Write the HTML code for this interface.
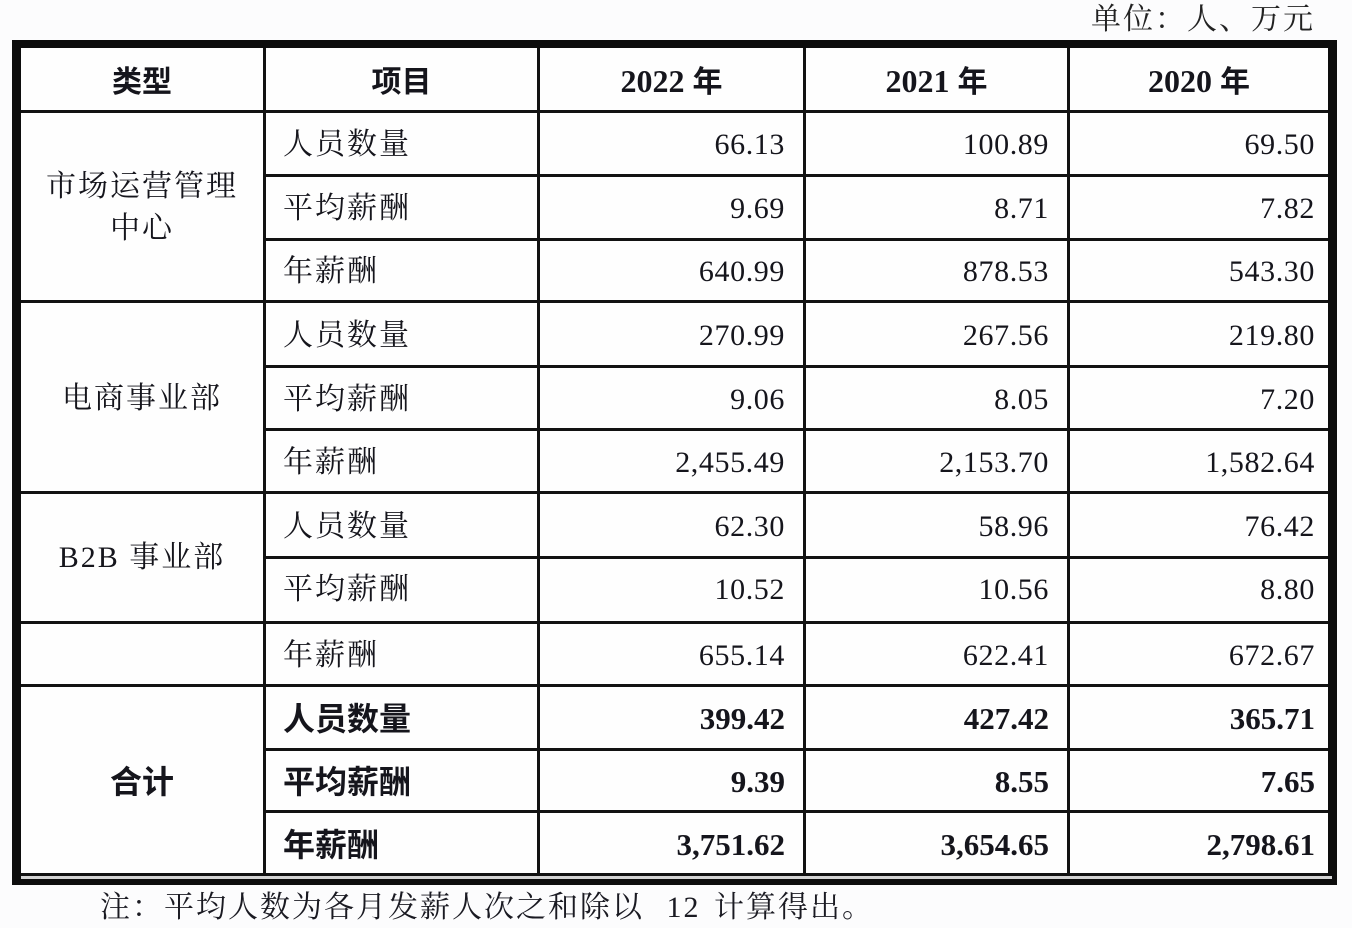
<!DOCTYPE html>
<html>
<head>
<meta charset="utf-8">
<style>
  html,body{margin:0;padding:0;}
  body{width:1352px;height:926px;background:#fcfcfd;position:relative;overflow:hidden;color:#15151c;}
  .abs{position:absolute;}
  .ln{position:absolute;background:#121212;}
  .t{position:absolute;height:40px;line-height:40px;white-space:nowrap;}
  .cj{font-family:"Liberation Serif","Noto Serif CJK SC",serif;font-size:30px;letter-spacing:2px;}
  .cjb{font-family:"Liberation Sans","Noto Sans CJK SC",sans-serif;font-size:32px;font-weight:bold;}
  .num{font-family:"Liberation Serif",serif;font-size:30px;letter-spacing:0.6px;text-align:right;}
  .numb{font-family:"Liberation Serif",serif;font-size:31px;font-weight:bold;text-align:right;}
  .hd{font-family:"Liberation Serif","Noto Sans CJK SC",sans-serif;font-size:32px;font-weight:bold;text-align:center;}
  .hd .c{font-family:"Liberation Sans","Noto Sans CJK SC",sans-serif;font-size:30px;}
  .c1{left:21px;width:242px;text-align:center;}
  .c2{left:283px;}
  .n1{right:567px;}
  .n2{right:303px;}
  .n3{right:37px;}
</style>
</head>
<body>
<!-- title -->
<div class="t cj" style="right:37px;top:0px;color:#222;">单位：人、万元</div>

<!-- frame -->
<div class="abs" style="left:12px;top:40px;width:1325px;height:845px;background:#0d0d0d;"></div>
<div class="abs" style="left:21px;top:48px;width:1307px;height:825px;background:#fefefe;"></div>
<div class="abs" style="left:21px;top:873px;width:1307px;height:3px;background:#121212;"></div>
<div class="abs" style="left:21px;top:876px;width:1311px;height:3px;background:#d4d4d4;"></div>

<!-- vertical lines -->
<div class="ln" style="left:263px;top:48px;width:3px;height:826px;"></div>
<div class="ln" style="left:537px;top:48px;width:3px;height:826px;"></div>
<div class="ln" style="left:803px;top:48px;width:3px;height:826px;"></div>
<div class="ln" style="left:1067px;top:48px;width:3px;height:826px;"></div>

<!-- full width horizontal lines -->
<div class="ln" style="left:21px;top:110px;width:1307px;height:3px;"></div>
<div class="ln" style="left:21px;top:300px;width:1307px;height:3px;"></div>
<div class="ln" style="left:21px;top:491px;width:1307px;height:3px;"></div>
<div class="ln" style="left:21px;top:621px;width:1307px;height:3px;"></div>
<div class="ln" style="left:21px;top:684px;width:1307px;height:3px;"></div>
<!-- partial lines -->
<div class="ln" style="left:263px;top:174px;width:1065px;height:3px;"></div>
<div class="ln" style="left:263px;top:238px;width:1065px;height:3px;"></div>
<div class="ln" style="left:263px;top:365px;width:1065px;height:3px;"></div>
<div class="ln" style="left:263px;top:428px;width:1065px;height:3px;"></div>
<div class="ln" style="left:263px;top:556px;width:1065px;height:3px;"></div>
<div class="ln" style="left:263px;top:748px;width:1065px;height:3px;"></div>
<div class="ln" style="left:263px;top:810px;width:1065px;height:3px;"></div>

<!-- header -->
<div class="t hd" style="left:21px;width:242px;top:61px;"><span class="c">类型</span></div>
<div class="t hd" style="left:266px;width:271px;top:61px;"><span class="c">项目</span></div>
<div class="t hd" style="left:540px;width:263px;top:61px;">2022 <span class="c">年</span></div>
<div class="t hd" style="left:806px;width:261px;top:61px;">2021 <span class="c">年</span></div>
<div class="t hd" style="left:1070px;width:258px;top:61px;">2020 <span class="c">年</span></div>

<!-- type column -->
<div class="abs cj c1" style="top:166px;line-height:42px;">市场运营管理<br>中心</div>
<div class="t cj c1" style="top:379px;">电商事业部</div>
<div class="t cj c1" style="top:538px;">B2B 事业部</div>
<div class="t cjb c1" style="top:762px;">合计</div>

<!-- rows -->
<div class="t cj c2" style="top:125px;">人员数量</div>
<div class="t num n1" style="top:125px;">66.13</div>
<div class="t num n2" style="top:125px;">100.89</div>
<div class="t num n3" style="top:125px;">69.50</div>

<div class="t cj c2" style="top:189px;">平均薪酬</div>
<div class="t num n1" style="top:189px;">9.69</div>
<div class="t num n2" style="top:189px;">8.71</div>
<div class="t num n3" style="top:189px;">7.82</div>

<div class="t cj c2" style="top:252px;">年薪酬</div>
<div class="t num n1" style="top:252px;">640.99</div>
<div class="t num n2" style="top:252px;">878.53</div>
<div class="t num n3" style="top:252px;">543.30</div>

<div class="t cj c2" style="top:316px;">人员数量</div>
<div class="t num n1" style="top:316px;">270.99</div>
<div class="t num n2" style="top:316px;">267.56</div>
<div class="t num n3" style="top:316px;">219.80</div>

<div class="t cj c2" style="top:380px;">平均薪酬</div>
<div class="t num n1" style="top:380px;">9.06</div>
<div class="t num n2" style="top:380px;">8.05</div>
<div class="t num n3" style="top:380px;">7.20</div>

<div class="t cj c2" style="top:443px;">年薪酬</div>
<div class="t num n1" style="top:443px;">2,455.49</div>
<div class="t num n2" style="top:443px;">2,153.70</div>
<div class="t num n3" style="top:443px;">1,582.64</div>

<div class="t cj c2" style="top:507px;">人员数量</div>
<div class="t num n1" style="top:507px;">62.30</div>
<div class="t num n2" style="top:507px;">58.96</div>
<div class="t num n3" style="top:507px;">76.42</div>

<div class="t cj c2" style="top:570px;">平均薪酬</div>
<div class="t num n1" style="top:570px;">10.52</div>
<div class="t num n2" style="top:570px;">10.56</div>
<div class="t num n3" style="top:570px;">8.80</div>

<div class="t cj c2" style="top:636px;">年薪酬</div>
<div class="t num n1" style="top:636px;">655.14</div>
<div class="t num n2" style="top:636px;">622.41</div>
<div class="t num n3" style="top:636px;">672.67</div>

<div class="t cjb c2" style="top:699px;">人员数量</div>
<div class="t numb n1" style="top:699px;">399.42</div>
<div class="t numb n2" style="top:699px;">427.42</div>
<div class="t numb n3" style="top:699px;">365.71</div>

<div class="t cjb c2" style="top:762px;">平均薪酬</div>
<div class="t numb n1" style="top:762px;">9.39</div>
<div class="t numb n2" style="top:762px;">8.55</div>
<div class="t numb n3" style="top:762px;">7.65</div>

<div class="t cjb c2" style="top:825px;">年薪酬</div>
<div class="t numb n1" style="top:825px;">3,751.62</div>
<div class="t numb n2" style="top:825px;">3,654.65</div>
<div class="t numb n3" style="top:825px;">2,798.61</div>

<!-- footer -->
<div class="t cj" style="left:100px;top:888px;color:#1a1a22;">注：平均人数为各月发薪人次之和除以 <span style="margin-left:13px;margin-right:4px;">12</span> 计算得出。</div>
</body>
</html>
